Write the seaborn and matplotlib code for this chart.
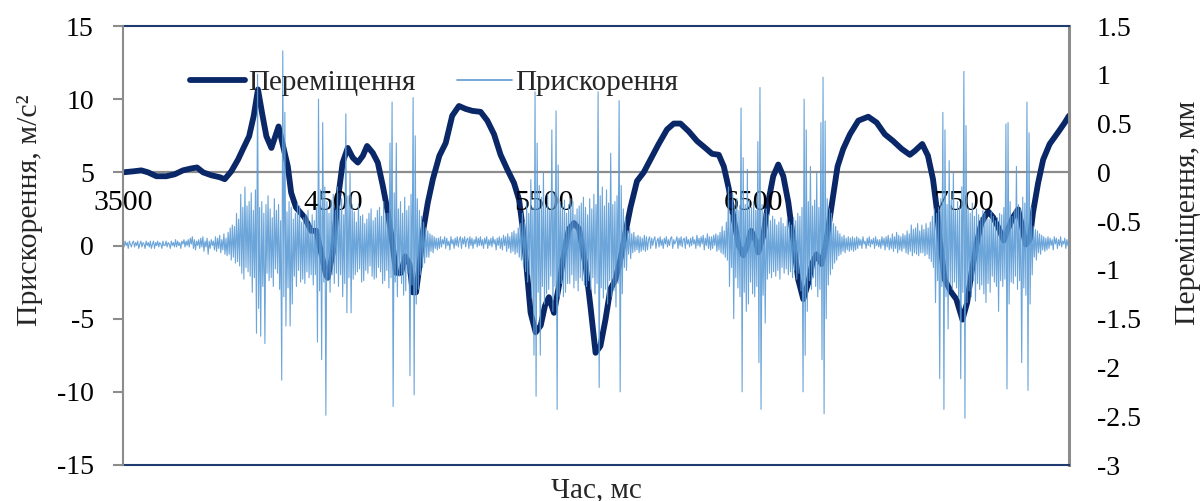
import numpy as np
import pandas as pd
import matplotlib
matplotlib.use("Agg")
import matplotlib.pyplot as plt
import seaborn as sns
from matplotlib.lines import Line2D

# ---------------- data ----------------
# displacement (mm), right axis
disp_time = [
    3500, 3548, 3587, 3619, 3659, 3706, 3746, 3785, 3825, 3852,
    3881, 3920, 3960, 3984, 4015, 4047, 4071, 4100, 4122, 4142,
    4163, 4182, 4206, 4240, 4284, 4300, 4323, 4363, 4395, 4419,
    4442, 4466, 4474, 4498, 4522, 4545, 4569, 4593, 4617, 4641,
    4661, 4688, 4712, 4736, 4760, 4783, 4799, 4823, 4842, 4863,
    4878, 4894, 4910, 4926, 4950, 4974, 5005, 5035, 5066, 5098,
    5130, 5162, 5201, 5233, 5265, 5296, 5328, 5360, 5384, 5400,
    5419, 5439, 5463, 5487, 5507, 5526, 5550, 5574, 5598, 5622,
    5645, 5669, 5701, 5725, 5748, 5771, 5795, 5818, 5842, 5866,
    5890, 5914, 5945, 5977, 6009, 6048, 6088, 6120, 6152, 6191,
    6231, 6270, 6302, 6334, 6358, 6382, 6405, 6429, 6450, 6469,
    6488, 6509, 6522, 6546, 6569, 6593, 6617, 6641, 6665, 6688,
    6712, 6736, 6760, 6779, 6799, 6823, 6847, 6871, 6899, 6926,
    6958, 6998, 7045, 7085, 7124, 7164, 7204, 7243, 7267, 7302,
    7329, 7353, 7369, 7385, 7409, 7440, 7464, 7493, 7515, 7536,
    7559, 7583, 7615, 7639, 7667, 7689, 7710, 7734, 7758, 7773,
    7794, 7813, 7829, 7853, 7877, 7908, 7948, 7980, 8000,
]
disp_mm = [
    0.00, 0.01, 0.02, 0.00, -0.04, -0.04, -0.02, 0.02, 0.04, 0.05,
    0.00, -0.03, -0.05, -0.07, 0.01, 0.13, 0.24, 0.37, 0.58, 0.85,
    0.59, 0.37, 0.25, 0.47, 0.06, -0.21, -0.36, -0.46, -0.60, -0.60,
    -0.82, -1.05, -1.08, -0.82, -0.28, 0.10, 0.25, 0.15, 0.10, 0.17,
    0.27, 0.20, 0.10, -0.14, -0.41, -0.75, -1.03, -1.03, -0.86, -0.94,
    -1.23, -1.23, -0.96, -0.62, -0.31, -0.07, 0.17, 0.30, 0.58, 0.68,
    0.65, 0.63, 0.62, 0.53, 0.39, 0.18, 0.03, -0.11, -0.28, -0.55,
    -0.96, -1.44, -1.64, -1.57, -1.37, -1.28, -1.44, -1.16, -0.82, -0.58,
    -0.52, -0.58, -0.96, -1.40, -1.85, -1.78, -1.51, -1.20, -1.10, -0.89,
    -0.62, -0.36, -0.09, 0.00, 0.13, 0.29, 0.44, 0.50, 0.50, 0.42,
    0.32, 0.25, 0.19, 0.18, 0.06, -0.17, -0.48, -0.75, -0.85, -0.75,
    -0.60, -0.70, -0.82, -0.65, -0.31, -0.04, 0.08, -0.04, -0.31, -0.69,
    -1.10, -1.30, -1.13, -0.93, -0.84, -0.94, -0.69, -0.34, 0.06, 0.24,
    0.39, 0.53, 0.57, 0.51, 0.39, 0.32, 0.24, 0.18, 0.22, 0.29,
    0.17, -0.07, -0.34, -0.69, -1.10, -1.23, -1.30, -1.51, -1.34, -1.03,
    -0.75, -0.52, -0.40, -0.46, -0.58, -0.70, -0.58, -0.46, -0.38, -0.52,
    -0.74, -0.69, -0.41, -0.11, 0.13, 0.29, 0.41, 0.51, 0.58,
]

# acceleration (m/s^2), left axis, sampled every 5 ms from 3500 to 8000
acc_quiet1 = [  # 3500-3995
    0.2, -0.1, 0.3, 0.0, 0.2, -0.2, 0.3, 0.1, -0.1, 0.2, 0.3, -0.1, 0.2, 0.0, 0.3, -0.2, 0.1, 0.3, -0.1, 0.2,
    0.1, -0.2, 0.3, 0.0, 0.2, -0.1, 0.3, -0.2, 0.1, 0.3, -0.2, 0.2, 0.0, 0.3, -0.1, 0.2, 0.1, -0.2, 0.3, 0.0,
    0.0, 0.3, -0.1, 0.2, 0.1, -0.2, 0.3, 0.0, 0.2, -0.1, 0.4, -0.1, 0.3, 0.0, 0.2, -0.2, 0.3, 0.1, 0.4, -0.1,
    0.3, 0.0, 0.4, -0.1, 0.5, 0.1, 0.6, -0.2, 0.4, -0.3, 0.3, 0.0, 0.4, -0.2, 0.5, -0.1, 0.6, -0.4, 0.3, -0.1,
    0.5, -0.6, 0.3, -0.2, 0.4, 0.0, 0.3, -0.3, 0.6, -0.4, 0.5, -0.2, 0.7, -0.5, 0.4, -0.3, 0.8, -0.6, 0.5, -0.7,
]
acc_burst1 = [  # 4000-4995
    0.9, -0.6, 1.2, -1.0, 1.4, -0.8, 1.3, -1.2, 2.2, -1.1, 1.8, -1.4, 3.5, -1.9, 2.6, -2.3, 4.0, -1.5, 2.7, -1.8,
    3.0, -2.1, 3.6, -3.2, 2.4, -2.2, 3.8, -6.0, 11.7, -4.3, 2.6, -6.2, 3.0, -2.8, 2.2, -6.7, 2.8, -1.9, 3.4, -2.4,
    2.5, -2.2, 1.9, -2.8, 3.2, -1.6, 2.4, -1.9, 2.8, -3.0, 1.7, -9.2, 13.3, -3.5, 9.1, -5.5, 2.3, -2.9, 3.0, -5.5,
    2.6, -4.0, 1.8, -2.1, 2.2, -2.8, 2.9, -1.7, 2.7, -2.5, 1.6, -2.3, 1.9, -2.6, 2.1, -1.8, 2.4, -2.2, 1.5, -2.0,
    2.1, -2.7, 1.7, -2.0, 2.6, -6.6, 10.0, -3.1, 3.8, -7.8, 8.4, -2.5, 4.0, -11.6, 3.0, -2.4, 2.2, -3.2, 3.1, -2.0,
    3.5, -2.6, 2.4, -1.9, 4.0, -2.8, 2.7, -2.0, 3.2, -3.5, 2.1, -2.6, 9.0, -4.6, 3.4, -2.2, 5.0, -4.6, 2.8, -2.3,
    2.3, -2.0, 1.6, -1.8, 2.8, -1.6, 2.0, -2.5, 2.1, -2.4, 1.5, -1.7, 1.8, -1.9, 2.2, -1.4, 2.5, -2.1, 1.7, -2.3,
    1.9, -2.2, 2.4, -1.5, 2.6, -1.8, 2.0, -2.6, 3.0, -2.4, 2.2, -1.7, 2.2, -2.9, 7.0, -2.2, 9.8, -11.0, 3.6, -2.5,
    7.0, -3.5, 2.5, -2.1, 3.0, -2.6, 2.2, -3.4, 3.3, -3.1, 2.4, -1.9, 2.7, -8.9, 3.5, -2.7, 10.1, -10.2, 7.5, -4.0,
    3.2, -3.0, 2.4, -2.0, 2.0, -1.5, 1.6, -1.2, 1.2, -0.8, 1.0, -0.8, 0.8, -0.4, 0.7, -0.5, 0.6, -0.2, 0.5, -0.3,
]
acc_quiet2 = [  # 5000-5395
    0.5, -0.2, 0.6, -0.1, 0.4, 0.1, 0.6, -0.2, 0.5, 0.0, 0.3, -0.3, 0.6, 0.1, 0.4, -0.2, 0.5, 0.0, 0.6, -0.1,
    0.4, 0.6, -0.2, 0.5, 0.1, 0.6, -0.1, 0.4, 0.5, -0.2, 0.6, 0.0, 0.5, -0.2, 0.4, 0.1, 0.6, -0.1, 0.5, 0.0,
    0.6, 0.0, 0.4, -0.2, 0.5, 0.1, 0.6, -0.2, 0.4, 0.0, 0.5, -0.1, 0.6, 0.1, 0.4, -0.3, 0.5, 0.0, 0.6, -0.2,
    0.5, -0.3, 0.7, 0.0, 0.6, -0.4, 0.8, -0.2, 0.6, -0.5, 0.9, -0.4, 1.0, -0.6, 0.8, -0.5, 1.2, -0.8, 1.5, -1.0,
]
acc_burst2 = [  # 5400-5995
    2.2, -1.4, 1.6, -1.8, 3.0, -2.5, 2.2, -2.0, 4.5, -3.6, 2.6, -7.5, 10.5, -10.3, 7.0, -3.2, 4.1, -7.5, 3.3, -2.8,
    5.0, -4.0, 2.7, -3.3, 3.5, -3.0, 2.4, -2.1, 7.9, -4.5, 3.6, -2.8, 9.2, -11.2, 5.5, -3.5, 3.0, -2.6, 2.8, -3.5,
    3.1, -3.2, 2.2, -2.6, 2.8, -2.6, 3.2, -2.0, 3.0, -2.9, 2.1, -2.4, 2.5, -3.1, 2.7, -2.2, 2.9, -2.4, 3.3, -2.7,
    2.6, -2.8, 2.1, -2.4, 3.2, -3.0, 2.5, -2.2, 3.5, -3.3, 2.8, -2.6, 10.5, -9.7, 3.4, -2.9, 4.0, -3.6, 2.7, -3.0,
    3.8, -4.0, 2.9, -2.4, 6.3, -3.5, 2.8, -3.1, 3.0, -4.2, 3.4, -2.6, 9.9, -10.0, 4.1, -3.3, 2.5, -1.5, 1.9, -1.7,
    1.0, -0.6, 1.2, -0.9, 0.8, -0.5, 0.9, -0.4, 0.6, -0.3, 0.7, -0.5, 0.6, -0.4, 0.5, -0.3, 0.7, -0.4, 0.6, -0.3,
]
acc_quiet3 = [  # 6000-6395
    0.4, 0.6, -0.2, 0.5, 0.0, 0.4, 0.6, -0.2, 0.3, 0.5, -0.1, 0.6, 0.0, 0.4, -0.2, 0.5, 0.1, 0.6, -0.1, 0.4,
    0.0, 0.5, 0.6, -0.2, 0.4, 0.1, 0.3, 0.6, -0.2, 0.5, 0.0, 0.6, -0.1, 0.4, 0.5, -0.2, 0.6, 0.1, 0.4, -0.1,
    0.5, 0.0, 0.6, 0.1, 0.4, -0.2, 0.7, 0.0, 0.5, -0.1, 0.6, 0.1, 0.7, -0.3, 0.5, 0.0, 0.8, -0.2, 0.6, -0.3,
    0.6, -0.2, 0.7, 0.0, 0.8, -0.4, 0.7, -0.3, 0.9, -0.5, 1.3, -0.6, 1.0, -0.8, 1.6, -1.0, 4.0, -2.8, 2.1, -1.5,
]
acc_burst3 = [  # 6400-6995
    3.5, -5.0, 2.6, -2.2, 3.2, -2.9, 2.4, -3.5, 9.4, -10.0, 6.0, -3.2, 2.8, -4.5, 5.2, -4.0, 3.1, -2.5, 2.6, -3.3,
    3.0, -3.5, 2.4, -2.8, 7.1, -8.0, 10.8, -11.2, 2.8, -3.4, 2.2, -5.3, 2.5, -2.3, 2.1, -1.9, 1.7, -2.2, 2.0, -1.8,
    1.8, -2.1, 1.4, -1.7, 1.6, -2.3, 1.9, -1.5, 1.5, -1.9, 1.3, -1.6, 1.8, -2.0, 1.6, -1.8, 1.4, -2.2, 1.9, -1.7,
    1.7, -2.3, 2.2, -1.9, 2.0, -3.1, 2.6, -10.0, 10.0, -7.5, 7.9, -4.5, 3.0, -2.4, 5.4, -3.0, 2.7, -2.2, 3.1, -2.8,
    5.0, -3.5, 2.6, -3.0, 8.4, -7.8, 11.5, -11.5, 8.5, -5.0, 3.2, -2.7, 2.5, -2.0, 2.2, -1.6, 1.5, -1.2, 1.3, -1.0,
    1.0, -0.7, 0.8, -0.6, 0.6, -0.4, 0.7, -0.5, 0.5, -0.3, 0.6, -0.4, 0.5, -0.3, 0.6, -0.4, 0.5, -0.3, 0.6, -0.2,
]
acc_quiet4 = [  # 7000-7295
    0.5, 0.0, 0.4, -0.2, 0.6, 0.1, 0.3, -0.2, 0.5, 0.0, 0.6, -0.1, 0.4, 0.1, 0.5, -0.2, 0.6, 0.0, 0.4, -0.1,
    0.4, -0.2, 0.6, 0.0, 0.5, -0.3, 0.6, -0.1, 0.7, -0.3, 0.5, -0.2, 0.8, -0.4, 0.6, -0.2, 0.9, -0.5, 0.7, -0.3,
    0.6, -0.4, 0.8, -0.2, 0.7, -0.5, 1.0, -0.6, 0.8, -0.4, 1.4, -0.7, 1.1, -0.5, 1.2, -0.6, 1.5, -0.7, 1.0, -0.5,
]
acc_burst4 = [  # 7300-7895
    1.4, -0.5, 1.1, -0.7, 1.5, -0.6, 1.2, -0.9, 1.6, -1.1, 2.0, -1.5, 2.5, -3.9, 2.2, -2.4, 2.6, -9.1, 3.2, -2.8,
    9.1, -11.2, 7.9, -3.5, 2.8, -5.7, 5.8, -2.6, 3.1, -3.0, 5.0, -2.5, 2.4, -2.9, 3.0, -3.6, 2.7, -9.1, 4.0, -3.2,
    11.9, -11.8, 8.2, -3.9, 2.6, -3.1, 2.2, -3.5, 2.9, -2.4, 2.0, -3.8, 2.5, -2.6, 2.1, -3.0, 1.9, -2.7, 2.4, -3.3,
    2.2, -3.9, 1.8, -2.6, 1.8, -3.2, 2.3, -2.1, 2.0, -2.5, 1.7, -2.8, 1.9, -4.5, 2.2, -2.4, 2.1, -2.8, 2.6, -2.3,
    8.3, -9.8, 8.4, -4.0, 3.0, -2.5, 2.0, -2.6, 2.4, -2.1, 5.4, -3.0, 2.8, -2.4, 2.5, -8.0, 3.3, -2.9, 2.9, -3.4,
    9.8, -9.9, 7.7, -4.0, 2.6, -2.0, 1.3, -0.8, 1.1, -1.0, 1.0, -0.5, 0.8, -0.6, 0.7, -0.3, 0.6, -0.4, 0.5, -0.3,
]
acc_quiet5 = [  # 7900-8000
    0.6, -0.2, 0.5, 0.0, 0.4, -0.3, 0.6, 0.1, 0.5, -0.2, 0.4, 0.0, 0.6, -0.1, 0.3, 0.1, 0.5, -0.2, 0.4, 0.0,
    0.2,
]

acc_values = (acc_quiet1 + acc_burst1 + acc_quiet2 + acc_burst2 + acc_quiet3
              + acc_burst3 + acc_quiet4 + acc_burst4 + acc_quiet5)
acc_time = list(range(3500, 3500 + 5 * len(acc_values), 5))

x_ticks = [3500, 4500, 5500, 6500, 7500]
left_ticks = [-15, -10, -5, 0, 5, 10, 15]
right_ticks = [-3, -2.5, -2, -1.5, -1, -0.5, 0, 0.5, 1, 1.5]
right_tick_labels = ["-3", "-2.5", "-2", "-1.5", "-1", "-0.5", "0", "0.5", "1", "1.5"]

label_disp = "Переміщення"
label_acc = "Прискорення"
ylabel_left = "Прискорення, м/с²"
ylabel_right = "Переміщення, мм"
xlabel = "Час, мс"

# ---------------- style ----------------
sns.set_style("white")
plt.rcParams['font.family'] = ['Liberation Serif', 'DejaVu Serif']

NAVY = '#0A2868'
BLUE = '#5B9BD5'
GRAY = '#8C8C8C'
BORDER = '#1F3A6E'

W, H = 1203, 501
fig = plt.figure(figsize=(W / 100, H / 100), dpi=100)
ax = fig.add_axes([123 / W, 1 - 465 / H, 946 / W, 439 / H])
ax2 = ax.twinx()
ax.set_zorder(ax2.get_zorder() + 1)
ax.patch.set_visible(False)

disp_df = pd.DataFrame({"t": disp_time, "d": disp_mm})
acc_df = pd.DataFrame({"t": acc_time, "a": acc_values})

sns.lineplot(data=disp_df, x="t", y="d", ax=ax2, color=NAVY, linewidth=4.2,
             legend=False, solid_joinstyle="round", solid_capstyle="round")
sns.lineplot(data=acc_df, x="t", y="a", ax=ax, color=BLUE, linewidth=0.8,
             alpha=0.9, legend=False)

ax2.axhline(0, color=GRAY, lw=1.6, zorder=0.5)

ax.set_xlim(3500, 8000)
ax.set_ylim(-15, 15)
ax2.set_ylim(-3, 1.5)

ax.set_xticks(x_ticks)
ax.set_xticklabels([str(v) for v in x_ticks])
ax.set_yticks(left_ticks)
ax.set_yticklabels([str(v) for v in left_ticks])
ax2.set_yticks(right_ticks)
ax2.set_yticklabels(right_tick_labels)

# spines
ax.spines['bottom'].set_position(('data', 5))
ax.spines['bottom'].set_color('none')
ax.spines['top'].set_visible(False)
ax.spines['right'].set_visible(False)
ax.spines['left'].set_color(GRAY)
ax.spines['left'].set_linewidth(1.5)
ax2.spines['left'].set_visible(False)
ax2.spines['top'].set_color(BORDER)
ax2.spines['top'].set_linewidth(1.5)
ax2.spines['bottom'].set_color(BORDER)
ax2.spines['bottom'].set_linewidth(1.5)
ax2.spines['right'].set_color(GRAY)
ax2.spines['right'].set_linewidth(2.2)

ax.tick_params(axis='x', length=0, pad=13, labelsize=21.5, colors='black')
ax.tick_params(axis='y', direction='out', length=7, width=1.5, color=GRAY,
               pad=14, labelsize=20, labelcolor='black')
ax2.tick_params(axis='y', length=0, pad=20, labelsize=20, labelcolor='black')
ax.grid(False)
ax2.grid(False)

ax.set_xlabel(xlabel, fontsize=21, va='top')
ax.xaxis.set_label_coords(0.5, -0.028)
ax.set_ylabel(ylabel_left, fontsize=21.5, va='center', ha='center')
ax.yaxis.set_label_coords(-0.098, 0.581)
ax2.set_ylabel(ylabel_right, fontsize=21.5, va='center', ha='center', rotation=90)
ax2.yaxis.set_label_coords(1.126, 0.574)

handles = [Line2D([], [], color=NAVY, lw=4.2), Line2D([], [], color=BLUE, lw=1.2)]
fig.legend(handles, [label_disp, label_acc], loc='center left',
           bbox_to_anchor=(190 / W, 1 - 83 / H), bbox_transform=fig.transFigure,
           ncol=2, frameon=False, fontsize=21, handlelength=1.9,
           handletextpad=0.1, columnspacing=1.4, borderpad=0, borderaxespad=0)

fig.savefig("out.png", dpi=100)
